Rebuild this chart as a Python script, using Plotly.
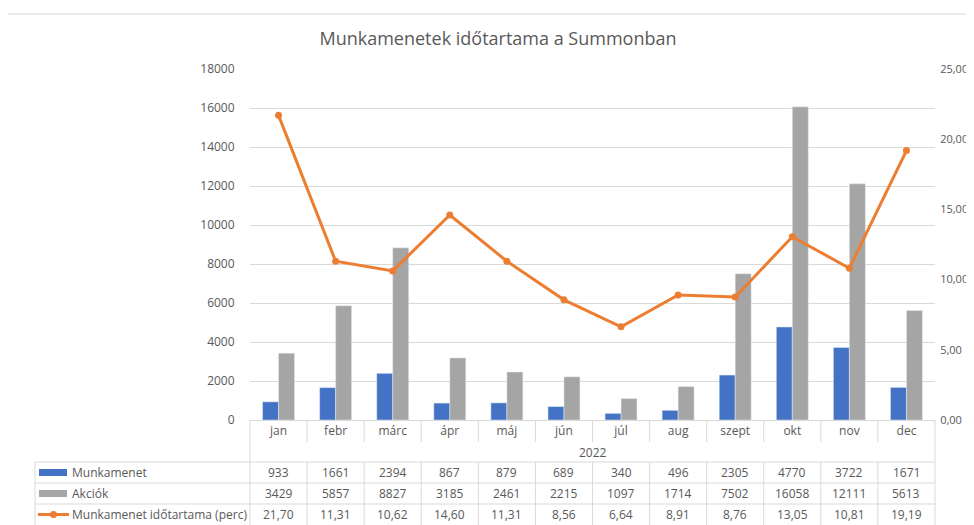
import plotly.graph_objects as go

# ---- data ----
months = ["jan", "febr", "márc", "ápr", "máj", "jún", "júl", "aug", "szept", "okt", "nov", "dec"]
year_label = "2022"
munkamenet = [933, 1661, 2394, 867, 879, 689, 340, 496, 2305, 4770, 3722, 1671]
akciok = [3429, 5857, 8827, 3185, 2461, 2215, 1097, 1714, 7502, 16058, 12111, 5613]
idotartam = [21.70, 11.31, 10.62, 14.60, 11.31, 8.56, 6.64, 8.91, 8.76, 13.05, 10.81, 19.19]
series_names = ["Munkamenet", "Akciók", "Munkamenet időtartama (perc)"]
chart_title = "Munkamenetek időtartama a Summonban"
left_ticks = list(range(0, 18001, 2000))
right_ticks = [0, 5, 10, 15, 20, 25]

# ---- styling ----
OFF = 8  # page body margin
W, H = 974, 525
L, R, T, B = 250 - OFF, 935 - OFF, 69 - OFF, 420 - OFF
BLUE, GREY, ORANGE = "#4472C4", "#A5A5A5", "#ED7D31"
TXT = "#595959"
GRID = "#D9D9D9"
FONT = "Open Sans"


def py(y):
    # y given in screenshot pixels
    return (B - (y - OFF)) / (B - T)


def pxp(x):
    # x given in screenshot pixels
    return ((x - OFF) - L) / (R - L)


idx = list(range(len(months)))

fig = go.Figure()
fig.add_trace(go.Bar(x=idx, y=munkamenet, name=series_names[0], marker_color=BLUE,
                     showlegend=False))
fig.add_trace(go.Bar(x=idx, y=akciok, name=series_names[1], marker_color=GREY,
                     showlegend=False))
fig.add_trace(go.Scatter(x=idx, y=idotartam, name=series_names[2], yaxis="y2",
                         mode="lines+markers",
                         line=dict(color=ORANGE, width=3),
                         marker=dict(color=ORANGE, size=7),
                         showlegend=False))

shapes = []
annotations = []

# outer chart border
shapes.append(dict(type="rect", xref="paper", yref="paper",
                   x0=pxp(5), x1=pxp(1000), y0=py(560), y1=py(14),
                   line=dict(color="#D9D9D9", width=1), layer="below"))

# table lines
line_style = dict(color=GRID, width=1)
row_lines = [462, 483, 504]
for yl in row_lines:
    shapes.append(dict(type="line", xref="paper", yref="paper",
                       x0=pxp(35), x1=1, y0=py(yl), y1=py(yl), line=line_style))
# left/right verticals of the data region
shapes.append(dict(type="line", xref="paper", yref="paper",
                   x0=0, x1=0, y0=py(420), y1=py(540), line=line_style))
shapes.append(dict(type="line", xref="paper", yref="paper",
                   x0=1, x1=1, y0=py(420), y1=py(540), line=line_style))
shapes.append(dict(type="line", xref="paper", yref="paper",
                   x0=pxp(35), x1=pxp(35), y0=py(462), y1=py(540), line=line_style))
# category dividers
for i in range(1, len(months)):
    shapes.append(dict(type="line", xref="x", yref="paper",
                       x0=i - 0.5, x1=i - 0.5, y0=py(420), y1=py(442), line=line_style))
    shapes.append(dict(type="line", xref="x", yref="paper",
                       x0=i - 0.5, x1=i - 0.5, y0=py(462), y1=py(540), line=line_style))

tfont = dict(size=12, color=TXT, family=FONT)

# year label
annotations.append(dict(text=year_label, xref="paper", yref="paper", x=0.5, y=py(452),
                        xanchor="center", yanchor="middle",
                        showarrow=False, font=tfont))

# row headers with legend keys
row_centers = [472.5, 493.5, 514.5]
shapes.append(dict(type="rect", xref="paper", yref="paper",
                   x0=pxp(39), x1=pxp(67), y0=py(row_centers[0] + 3.5), y1=py(row_centers[0] - 3.5),
                   fillcolor=BLUE, line=dict(width=0)))
shapes.append(dict(type="rect", xref="paper", yref="paper",
                   x0=pxp(39), x1=pxp(67), y0=py(row_centers[1] + 3.5), y1=py(row_centers[1] - 3.5),
                   fillcolor=GREY, line=dict(width=0)))
shapes.append(dict(type="line", xref="paper", yref="paper",
                   x0=pxp(38), x1=pxp(69), y0=py(row_centers[2]), y1=py(row_centers[2]),
                   line=dict(color=ORANGE, width=3)))
shapes.append(dict(type="circle", xref="paper", yref="paper",
                   x0=pxp(50), x1=pxp(57), y0=py(row_centers[2] + 3.5), y1=py(row_centers[2] - 3.5),
                   fillcolor=ORANGE, line=dict(width=0)))

for name, yc in zip(series_names, row_centers):
    annotations.append(dict(text=name, xref="paper", yref="paper", x=pxp(70), y=py(yc),
                            xanchor="left", yanchor="middle", showarrow=False,
                            font=tfont))

rows = [
    [str(v) for v in munkamenet],
    [str(v) for v in akciok],
    [f"{v:.2f}".replace(".", ",") for v in idotartam],
]
for vals, yc in zip(rows, row_centers):
    for i, t in enumerate(vals):
        annotations.append(dict(text=t, xref="x", yref="paper", x=i, y=py(yc),
                                xanchor="center", yanchor="middle",
                                showarrow=False, font=tfont))

fig.update_layout(
    width=W, height=H,
    margin=dict(l=L, r=W - R, t=T, b=H - B),
    paper_bgcolor="white", plot_bgcolor="white",
    separators=",.",
    barmode="group", bargap=0.44, bargroupgap=0,
    title=dict(text=chart_title, x=(498 - OFF) / W, xanchor="center", xref="container",
               y=1 - (39 - OFF) / H, yref="container", yanchor="middle",
               font=dict(size=18, color=TXT, family=FONT)),
    xaxis=dict(range=[-0.5, len(months) - 0.5], tickvals=idx, ticktext=months,
               showgrid=False, zeroline=False, showline=True, linecolor=GRID,
               ticks="", tickfont=tfont, automargin=False),
    yaxis=dict(range=[0, 18000], tickvals=left_ticks, tickformat="d",
               showgrid=True, gridcolor=GRID, zeroline=False, showline=False,
               ticks="outside", ticklen=12, tickcolor="rgba(0,0,0,0)",
               tickfont=tfont, automargin=False),
    yaxis2=dict(range=[0, 25], tickvals=right_ticks, tickformat=".2f",
                overlaying="y", side="right", showgrid=False, zeroline=False,
                ticks="outside", ticklen=2, tickcolor="rgba(0,0,0,0)",
                tickfont=dict(size=11, color=TXT, family=FONT), automargin=False),
    shapes=shapes,
    annotations=annotations,
)

fig.write_html("out.html")
